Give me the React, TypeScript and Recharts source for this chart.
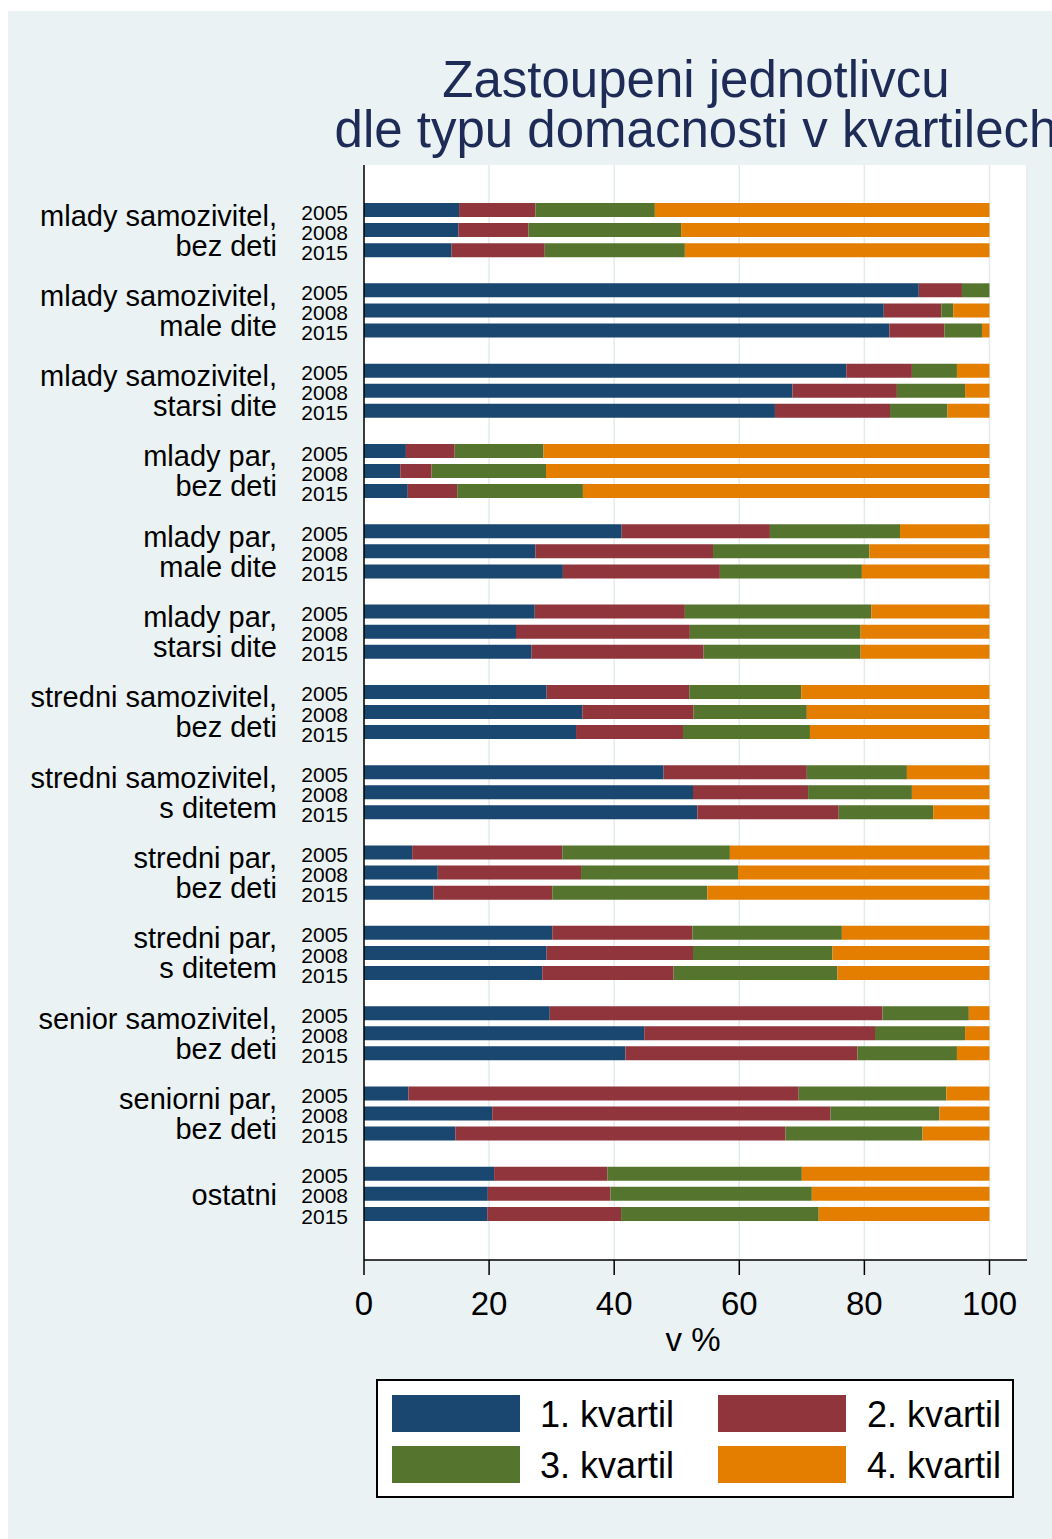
import { BarChart, Bar, XAxis, YAxis, CartesianGrid } from "recharts";

const groupLabels = [
  ["mlady samozivitel,", "bez deti"],
  ["mlady samozivitel,", "male dite"],
  ["mlady samozivitel,", "starsi dite"],
  ["mlady par,", "bez deti"],
  ["mlady par,", "male dite"],
  ["mlady par,", "starsi dite"],
  ["stredni samozivitel,", "bez deti"],
  ["stredni samozivitel,", "s ditetem"],
  ["stredni par,", "bez deti"],
  ["stredni par,", "s ditetem"],
  ["senior samozivitel,", "bez deti"],
  ["seniorni par,", "bez deti"],
  ["ostatni"],
];

const years = ["2005", "2008", "2015"];

// one triple per household type: 2005, 2008, 2015
const kvartil1 = [
  [15.2, 15.1, 14.0], [88.7, 83.1, 84.0], [77.1, 68.5, 65.7], [6.7, 5.8, 7.0],
  [41.2, 27.4, 31.8], [27.3, 24.3, 26.8], [29.2, 34.9, 33.9], [47.9, 52.6, 53.3],
  [7.7, 11.8, 11.1], [30.1, 29.2, 28.5], [29.7, 44.8, 41.8], [7.1, 20.5, 14.6],
  [20.8, 19.8, 19.7],
];
const kvartil2 = [
  [12.2, 11.2, 14.9], [6.9, 9.2, 8.8], [10.5, 16.7, 18.4], [7.8, 5.0, 7.9],
  [23.7, 28.4, 25.1], [24.0, 27.8, 27.5], [22.8, 17.8, 17.1], [22.9, 18.4, 22.6],
  [24.0, 22.9, 19.0], [22.4, 23.4, 21.0], [53.2, 36.9, 37.1], [62.4, 54.1, 52.8],
  [18.1, 19.6, 21.4],
];
const kvartil3 = [
  [19.1, 24.4, 22.4], [4.4, 1.9, 6.0], [7.2, 10.9, 9.2], [14.2, 18.3, 20.1],
  [20.8, 25.0, 22.7], [29.8, 27.3, 25.1], [17.9, 18.1, 20.3], [16.0, 16.6, 15.1],
  [26.8, 25.1, 24.8], [23.9, 22.3, 26.2], [13.8, 14.4, 15.9], [23.6, 17.4, 21.9],
  [31.1, 32.2, 31.6],
];
const kvartil4 = [
  [53.5, 49.3, 48.7], [0, 5.8, 1.2], [5.2, 3.9, 6.7], [71.3, 70.9, 65.0],
  [14.3, 19.2, 20.4], [18.9, 20.6, 20.6], [30.1, 29.2, 28.7], [13.2, 12.4, 9.0],
  [41.5, 40.2, 45.1], [23.6, 25.1, 24.3], [3.3, 3.9, 5.2], [6.9, 8.0, 10.7],
  [30.0, 28.4, 27.3],
];

const xTicks = [0, 20, 40, 60, 80, 100];

const series = [
  { key: "q1", name: "1. kvartil", color: "#1A476F", values: kvartil1 },
  { key: "q2", name: "2. kvartil", color: "#90353B", values: kvartil2 },
  { key: "q3", name: "3. kvartil", color: "#55752F", values: kvartil3 },
  { key: "q4", name: "4. kvartil", color: "#E37E00", values: kvartil4 },
];

type Row = { key: string; group: number; year: string; [k: string]: any };

const rows: Row[] = [];
groupLabels.forEach((_, g) => {
  years.forEach((year, i) => {
    const row: Row = { key: `${g}-${year}`, group: g, year };
    series.forEach((s) => (row[s.key] = s.values[g][i]));
    rows.push(row);
  });
  if (g < groupLabels.length - 1) rows.push({ key: `${g}-gap`, group: g, year: "" });
});
const rowByKey: Record<string, Row> = {};
rows.forEach((r) => (rowByKey[r.key] = r));

const font = "'Liberation Sans', Arial, Helvetica, sans-serif";

function CategoryTick(props: any) {
  const { y, payload } = props;
  const row = rowByKey[payload.value];
  if (!row || !row.year) return null;
  const lines = groupLabels[row.group];
  return (
    <g>
      <text x={340} y={y + 2} dy="0.36em" textAnchor="end" fontSize={21} fill="#000" fontFamily={font}>
        {row.year}
      </text>
      {row.year === "2008" &&
        lines.map((line, i) => (
          <text
            key={i}
            x={269}
            y={lines.length === 1 ? y + 1 : y + (i === 0 ? -15 : 15)}
            dy="0.36em"
            textAnchor="end"
            fontSize={29}
            fill="#000"
            fontFamily={font}
          >
            {line}
          </text>
        ))}
    </g>
  );
}

export default function App() {
  return (
    <div
      style={{
        position: "fixed",
        left: 8,
        top: 11,
        width: 1044,
        height: 1528,
        background: "#EAF2F3",
        overflow: "hidden",
        fontFamily: font,
      }}
    >
      <div
        style={{
          position: "absolute",
          left: 288,
          top: 44,
          width: 800,
          textAlign: "center",
          whiteSpace: "nowrap",
          fontSize: 51,
          lineHeight: "50px",
          color: "#1E2B57",
        }}
      >
        <div>Zastoupeni jednotlivcu</div>
        <div>dle typu domacnosti v kvartilech</div>
      </div>

      <div style={{ position: "absolute", left: 0, top: 0 }}>
        <BarChart
          width={1044}
          height={1528}
          data={rows}
          layout="vertical"
          margin={{ top: 154, right: 25, bottom: 219, left: 0 }}
        >
          <CartesianGrid horizontal={false} stroke="#E3EBEE" strokeWidth={1.5} fill="#FFFFFF" />
          <XAxis
            type="number"
            domain={[0, 106]}
            ticks={xTicks}
            allowDataOverflow
            height={60}
            tickSize={15}
            tickMargin={17}
            axisLine={{ stroke: "#000", strokeWidth: 1.5 }}
            tickLine={{ stroke: "#000", strokeWidth: 1.5 }}
            tick={{ fontSize: 33, fill: "#000", fontFamily: font }}
          />
          <YAxis
            type="category"
            dataKey="key"
            width={356}
            interval={0}
            padding={{ top: 35, bottom: 36 }}
            axisLine={{ stroke: "#000", strokeWidth: 1.5 }}
            tickLine={false}
            tick={<CategoryTick />}
          />
          {series.map((s) => (
            <Bar
              key={s.key}
              dataKey={s.key}
              name={s.name}
              stackId="a"
              fill={s.color}
              barSize={14}
              isAnimationActive={false}
            />
          ))}
        </BarChart>
      </div>

      <div
        style={{
          position: "absolute",
          left: 585,
          top: 1311,
          width: 200,
          textAlign: "center",
          fontSize: 33,
          lineHeight: "36px",
          color: "#000",
        }}
      >
        v %
      </div>

      <div
        style={{
          position: "absolute",
          left: 368,
          top: 1368,
          width: 638,
          height: 119,
          boxSizing: "border-box",
          border: "2px solid #000",
          background: "#FFFFFF",
        }}
      >
        {series.map((s, i) => {
          const col = i % 2;
          const r = Math.floor(i / 2);
          return (
            <div key={s.key}>
              <div
                style={{
                  position: "absolute",
                  left: 14 + col * 326,
                  top: 14 + r * 51,
                  width: 128,
                  height: 37,
                  background: s.color,
                }}
              />
              <div
                style={{
                  position: "absolute",
                  left: 162 + col * 327,
                  top: 14 + r * 51,
                  fontSize: 36,
                  lineHeight: "40px",
                  color: "#000",
                  whiteSpace: "nowrap",
                }}
              >
                {s.name}
              </div>
            </div>
          );
        })}
      </div>
    </div>
  );
}
